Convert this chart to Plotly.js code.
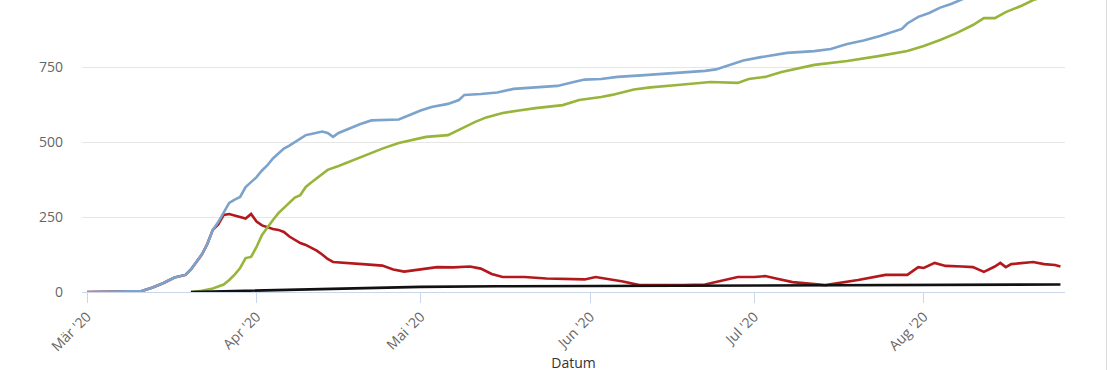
<!DOCTYPE html>
<html>
<head>
<meta charset="utf-8">
<script src="https://cdn.plot.ly/plotly-3.0.1.min.js"></script>
<style>
  html, body { margin: 0; padding: 0; background: #fff; overflow: hidden; width: 1110px; height: 370px; }
  #chart { position: absolute; left: 0; top: -40px; width: 1110px; height: 430px; }
  #edge { position: absolute; left: 1106px; top: 0; width: 1px; height: 370px; background: #dcdcdc; }
</style>
</head>
<body>
<div id="chart"></div>
<div id="edge"></div>
<script>
// Total cases (blue)
const totalDates = ['2020-03-01','2020-03-09','2020-03-11','2020-03-13','2020-03-15','2020-03-17','2020-03-18','2020-03-19','2020-03-20','2020-03-21','2020-03-22','2020-03-23','2020-03-24','2020-03-25','2020-03-26','2020-03-27','2020-03-28','2020-03-29','2020-03-30','2020-03-31','2020-04-01','2020-04-02','2020-04-03','2020-04-04','2020-04-05','2020-04-06','2020-04-07','2020-04-08','2020-04-09','2020-04-10','2020-04-11','2020-04-12','2020-04-13','2020-04-14','2020-04-15','2020-04-16','2020-04-18','2020-04-20','2020-04-22','2020-04-25','2020-04-27','2020-04-29','2020-05-01','2020-05-03','2020-05-06','2020-05-08','2020-05-09','2020-05-12','2020-05-15','2020-05-18','2020-05-22','2020-05-26','2020-05-29','2020-05-31','2020-06-03','2020-06-06','2020-06-11','2020-06-17','2020-06-22','2020-06-24','2020-06-26','2020-06-29','2020-07-02','2020-07-07','2020-07-12','2020-07-15','2020-07-18','2020-07-21','2020-07-24','2020-07-26','2020-07-28','2020-07-29','2020-07-31','2020-08-02','2020-08-04','2020-08-06','2020-08-08','2020-08-11','2020-08-14','2020-08-17','2020-08-20','2020-08-23','2020-08-26'];
const totalVals = [0,1,3,15,30,48,52,57,75,100,125,160,207,233,267,297,308,317,350,365,383,405,423,445,463,478,488,500,510,523,527,530,535,530,517,530,545,560,572,573,575,590,605,617,627,640,657,660,665,677,683,687,700,708,710,717,723,730,737,742,755,772,782,797,803,810,827,838,853,865,877,895,917,930,948,960,975,1000,1020,1045,1070,1090,1105];

// Recovered (green)
const recDates = ['2020-03-20','2020-03-22','2020-03-24','2020-03-26','2020-03-27','2020-03-28','2020-03-29','2020-03-30','2020-03-31','2020-04-01','2020-04-02','2020-04-03','2020-04-04','2020-04-05','2020-04-06','2020-04-07','2020-04-08','2020-04-09','2020-04-10','2020-04-11','2020-04-12','2020-04-13','2020-04-14','2020-04-16','2020-04-18','2020-04-21','2020-04-24','2020-04-27','2020-04-30','2020-05-02','2020-05-06','2020-05-09','2020-05-11','2020-05-13','2020-05-16','2020-05-19','2020-05-22','2020-05-27','2020-05-30','2020-06-03','2020-06-05','2020-06-09','2020-06-12','2020-06-17','2020-06-23','2020-06-28','2020-06-30','2020-07-03','2020-07-06','2020-07-12','2020-07-18','2020-07-24','2020-07-29','2020-08-01','2020-08-04','2020-08-07','2020-08-10','2020-08-12','2020-08-14','2020-08-16','2020-08-19','2020-08-21','2020-08-24','2020-08-26'];
const recVals = [0,4,12,25,40,58,80,113,117,150,190,217,240,263,280,298,315,323,350,365,380,393,407,420,435,457,478,497,510,517,523,550,567,582,597,605,613,623,640,650,657,675,682,690,700,697,710,717,733,757,770,787,803,820,840,863,890,913,913,933,955,973,990,1005];

// Active (red)
const actDates = ['2020-03-01','2020-03-09','2020-03-11','2020-03-13','2020-03-15','2020-03-17','2020-03-18','2020-03-19','2020-03-20','2020-03-21','2020-03-22','2020-03-23','2020-03-24','2020-03-25','2020-03-26','2020-03-27','2020-03-28','2020-03-29','2020-03-30','2020-03-31','2020-04-01','2020-04-02','2020-04-03','2020-04-04','2020-04-05','2020-04-06','2020-04-07','2020-04-08','2020-04-09','2020-04-10','2020-04-11','2020-04-12','2020-04-13','2020-04-14','2020-04-15','2020-04-18','2020-04-21','2020-04-24','2020-04-26','2020-04-28','2020-05-01','2020-05-04','2020-05-07','2020-05-10','2020-05-12','2020-05-14','2020-05-16','2020-05-20','2020-05-24','2020-05-28','2020-05-31','2020-06-02','2020-06-04','2020-06-07','2020-06-10','2020-06-14','2020-06-18','2020-06-22','2020-06-25','2020-06-28','2020-07-01','2020-07-03','2020-07-05','2020-07-08','2020-07-14','2020-07-20','2020-07-25','2020-07-29','2020-07-31','2020-08-01','2020-08-03','2020-08-05','2020-08-08','2020-08-10','2020-08-12','2020-08-14','2020-08-15','2020-08-16','2020-08-17','2020-08-21','2020-08-23','2020-08-25','2020-08-26'];
const actVals = [0,1,3,15,30,48,52,57,75,100,125,160,207,225,257,260,255,248,245,260,235,222,215,210,207,200,185,173,163,157,147,138,125,110,100,95,92,88,75,68,75,83,82,85,78,60,50,50,45,43,42,50,45,35,23,22,23,25,37,50,50,53,45,33,23,40,57,57,83,80,97,87,85,83,67,85,97,83,93,100,93,90,85];

// Deaths (black)
const deathDates = ['2020-03-20','2020-03-25','2020-04-01','2020-04-08','2020-04-15','2020-04-22','2020-05-01','2020-05-15','2020-06-01','2020-07-01','2020-08-01','2020-08-15','2020-08-26'];
const deathVals = [0,2,4,7,11,14,17,19,20,21,22,24,25];

// Axis ticks
const xTickVals = ['2020-03-01','2020-04-01','2020-05-01','2020-06-01','2020-07-01','2020-08-01'];
const xTickText = ["Mär '20","Apr '20","Mai '20","Jun '20","Jul '20","Aug '20"];
const yTickVals = [0,250,500,750,1000];
const yTickText = ['0','250','500','750','1000'];

const lw = 2.6;
const traces = [
  {x: actDates, y: actVals, type: 'scatter', mode: 'lines', line: {color: '#b3191c', width: lw}, name: 'Aktiv'},
  {x: recDates, y: recVals, type: 'scatter', mode: 'lines', line: {color: '#98b53b', width: lw}, name: 'Genesen'},
  {x: totalDates, y: totalVals, type: 'scatter', mode: 'lines', line: {color: '#7ca3cb', width: lw}, name: 'Fälle'},
  {x: deathDates, y: deathVals, type: 'scatter', mode: 'lines', line: {color: '#111111', width: lw}, name: 'Tote'}
];

const layout = {
  width: 1110, height: 430,
  margin: {l: 82, r: 45, t: 2, b: 98},
  paper_bgcolor: '#ffffff', plot_bgcolor: '#ffffff',
  showlegend: false,
  font: {family: 'Open Sans, DejaVu Sans, sans-serif', color: '#666666', size: 14},
  xaxis: {
    type: 'date',
    range: ['2020-02-29T02:00:00', '2020-08-26T20:00:00'],
    tickvals: xTickVals, ticktext: xTickText,
    tickangle: -45,
    showgrid: false, zeroline: false,
    showline: true, linecolor: '#ccd6eb', linewidth: 1,
    ticks: 'outside', ticklen: 10, tickcolor: '#ccd6eb', tickwidth: 1,
    tickfont: {size: 14, color: '#666666'},
    title: {text: 'Datum', font: {size: 14, color: '#333333'}, standoff: 2},
    fixedrange: true
  },
  yaxis: {
    range: [0, 1100],
    tickvals: yTickVals, ticktext: yTickText,
    showgrid: true, gridcolor: '#e6e6e6', gridwidth: 1,
    zeroline: false, showline: false,
    ticks: '', ticklabelstandoff: 18,
    tickfont: {size: 14, color: '#666666'},
    fixedrange: true
  }
};

Plotly.newPlot('chart', traces, layout, {displayModeBar: false, staticPlot: true});
</script>
</body>
</html>
